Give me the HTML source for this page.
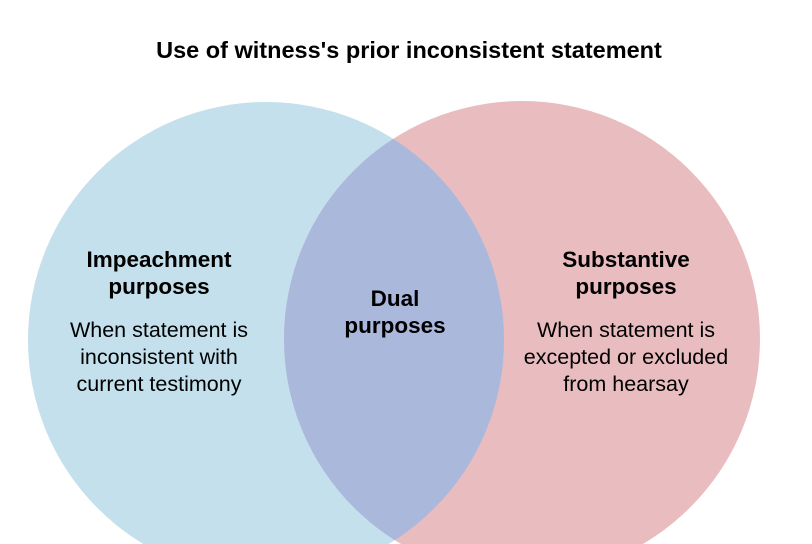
<!DOCTYPE html>
<html><head><style>
html,body{margin:0;width:812px;height:544px;overflow:hidden;background:#fff;font-family:"Liberation Sans",Arial,sans-serif;}
svg{display:block;}
</style></head><body>
<svg width="812" height="544" viewBox="0 0 812 544" xmlns="http://www.w3.org/2000/svg" style="overflow:hidden">
<defs>
<clipPath id="cl"><circle cx="266" cy="340" r="238"/></clipPath>
</defs>
<circle cx="266" cy="340" r="238" fill="#c3e0ec"/>
<circle cx="522" cy="339" r="238" fill="#e9bcbf"/>
<circle cx="522" cy="339" r="238" fill="#aab8dc" clip-path="url(#cl)"/>
<g font-family="Liberation Sans, Arial, sans-serif" fill="#000" text-anchor="middle">
<text x="409" y="58" font-size="23.5" font-weight="bold">Use of witness's prior inconsistent statement</text>
<text x="159" y="267" font-size="22.5" font-weight="bold">Impeachment</text>
<text x="159" y="294" font-size="22.5" font-weight="bold">purposes</text>
<text x="159" y="337" font-size="21.5">When statement is</text>
<text x="159" y="364" font-size="21.5">inconsistent with</text>
<text x="159" y="391" font-size="21.5">current testimony</text>
<text x="395" y="306" font-size="22.5" font-weight="bold">Dual</text>
<text x="395" y="333" font-size="22.5" font-weight="bold">purposes</text>
<text x="626" y="267" font-size="22.5" font-weight="bold">Substantive</text>
<text x="626" y="294" font-size="22.5" font-weight="bold">purposes</text>
<text x="626" y="337" font-size="21.5">When statement is</text>
<text x="626" y="364" font-size="21.5">excepted or excluded</text>
<text x="626" y="391" font-size="21.5">from hearsay</text>
</g>
</svg>
</body></html>
